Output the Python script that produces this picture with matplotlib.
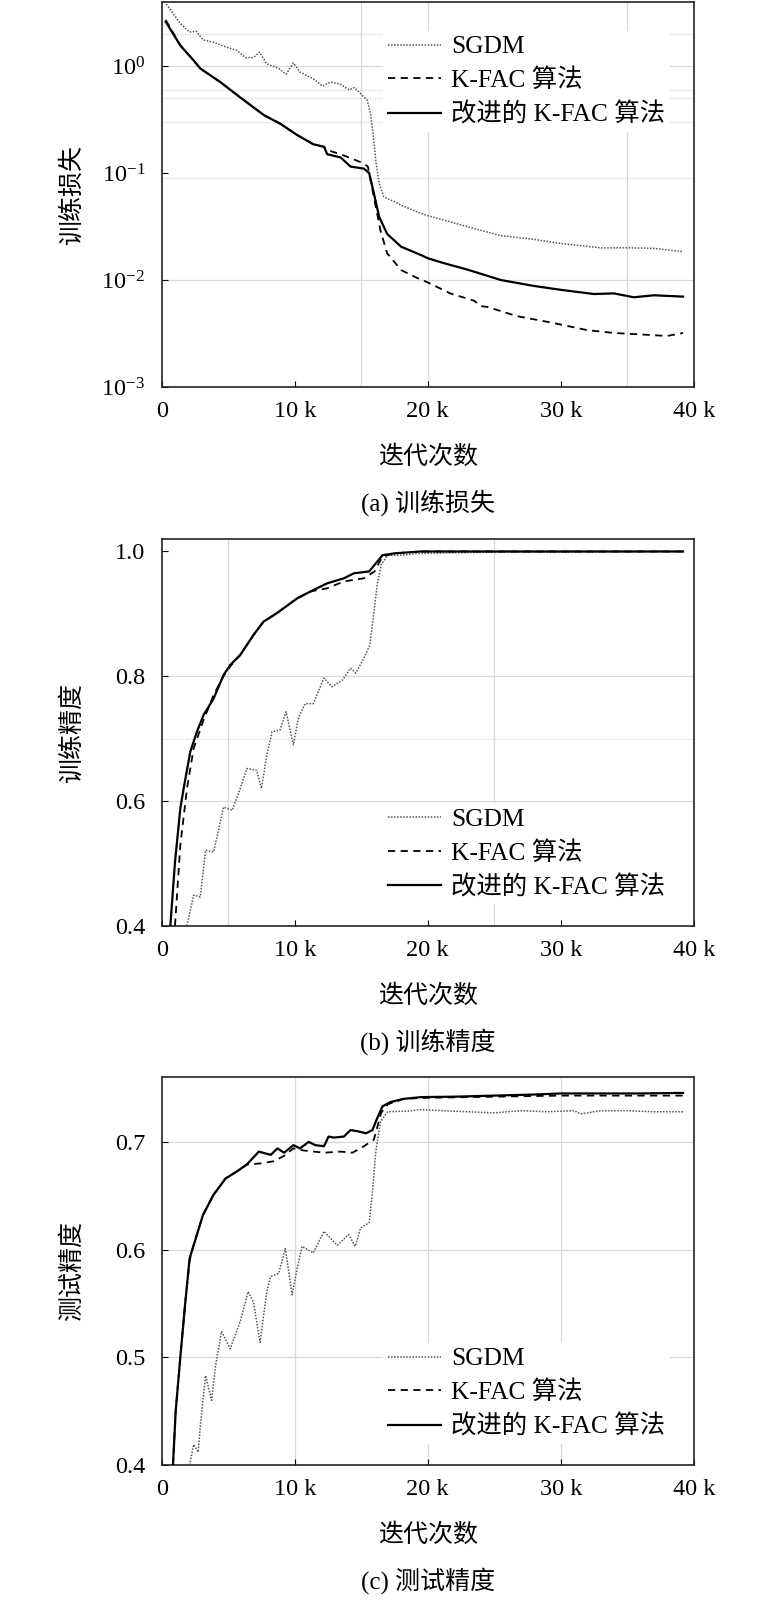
import matplotlib
matplotlib.use("Agg")
import matplotlib.pyplot as plt
import matplotlib.ticker as ticker

plt.rcParams["font.family"] = ["Liberation Serif", "Noto Sans CJK SC"]
plt.rcParams["font.size"] = 18
plt.rcParams["mathtext.fontset"] = "custom"
plt.rcParams["mathtext.rm"] = "Liberation Serif"
plt.rcParams["mathtext.it"] = "Liberation Serif:italic"
plt.rcParams["axes.unicode_minus"] = True

labels = ["SGDM", "K-FAC 算法", "改进的 K-FAC 算法"]
x_ticks = [0, 10, 20, 30, 40]

# (a) training loss, x in thousands of iterations
loss_sgdm_x = [0.35, 1.4, 2.1, 2.6, 3.1, 3.9, 4.9, 5.65, 6.3, 6.9, 7.35, 7.9, 8.8, 9.35, 9.9, 10.4,
               11.4, 12.1, 12.7, 13.4, 14.1, 14.5, 15.1, 15.45, 15.7, 15.9, 16.1, 16.35, 16.7, 17.5,
               18, 19.5, 20, 23, 25.5, 28, 30, 33, 35, 37, 39.2]
loss_sgdm = [3.8, 2.5, 2.08, 2.12, 1.76, 1.67, 1.5, 1.4, 1.2, 1.2, 1.35, 1.05, 0.95, 0.84, 1.07, 0.88,
             0.76, 0.65, 0.71, 0.68, 0.60, 0.63, 0.53, 0.48, 0.36, 0.23, 0.13, 0.080, 0.060, 0.054,
             0.050, 0.042, 0.040, 0.0315, 0.026, 0.024, 0.022, 0.020, 0.020, 0.0198, 0.0184]
loss_kfac_x = [0.3, 0.9, 1.4, 2.4, 2.9, 4.4, 5.9, 7.7, 8.9, 10.2, 11.4, 12.2, 12.45, 13.45, 14.45,
               15.2, 15.5, 15.95, 16.45, 16.95, 18, 19.1, 20, 21.7, 23.5, 24, 24.5, 26.7, 29.3, 32,
               34, 36, 38, 39.2]
loss_kfac = [2.7, 2.0, 1.56, 1.13, 0.95, 0.71, 0.51, 0.347, 0.29, 0.226, 0.186, 0.176, 0.164, 0.150,
             0.134, 0.123, 0.115, 0.060, 0.029, 0.0178, 0.0124, 0.0106, 0.0095, 0.0075, 0.0064,
             0.0057, 0.0056, 0.0046, 0.0040, 0.0034, 0.0032, 0.0031, 0.0030, 0.0032]
loss_ikfac_x = [0.3, 1.4, 2.4, 2.9, 4.4, 5.9, 7.7, 8.9, 10.2, 11.4, 12.2, 12.45, 13.45, 14.2, 15.2,
                15.6, 15.95, 16.35, 16.95, 18, 19.5, 20, 21.2, 23, 25.5, 28, 30, 32.5, 34, 35.5,
                37, 39.2]
loss_ikfac = [2.6, 1.56, 1.13, 0.95, 0.71, 0.51, 0.347, 0.29, 0.226, 0.186, 0.176, 0.150, 0.140,
              0.115, 0.110, 0.100, 0.065, 0.039, 0.027, 0.0205, 0.0171, 0.016, 0.0144, 0.0125,
              0.0100, 0.0088, 0.0081, 0.0074, 0.0075, 0.0069, 0.0072, 0.0070]

# (b) training accuracy
acc_sgdm_x = [1.9, 2.4, 2.9, 3.3, 3.9, 4.3, 4.65, 5.3, 5.9, 6.4, 7.15, 7.5, 7.9, 8.3, 8.9, 9.35,
              9.9, 10.3, 10.8, 11.4, 12.2, 12.8, 13.6, 14.2, 14.6, 15.2, 15.65, 15.9, 16.2, 16.5,
              17.0, 18.0, 19.5, 25, 30, 39.2]
acc_sgdm = [0.40, 0.449, 0.446, 0.521, 0.518, 0.556, 0.59, 0.585, 0.62, 0.652, 0.649, 0.62, 0.673,
            0.711, 0.714, 0.743, 0.69, 0.735, 0.756, 0.756, 0.797, 0.783, 0.794, 0.813, 0.805,
            0.829, 0.85, 0.893, 0.946, 0.979, 0.994, 0.994, 0.997, 0.999, 0.999, 1.0]
acc_kfac_x = [1.0, 1.4, 1.9, 2.4, 3.1, 3.9, 4.65, 5.15, 5.9, 6.9, 7.65, 8.65, 10.2, 11.2, 12.45,
              13.7, 15.2, 16.0, 16.6, 17.5, 19.5, 39.2]
acc_kfac = [0.40, 0.529, 0.62, 0.684, 0.727, 0.770, 0.80, 0.816, 0.834, 0.866, 0.887, 0.901, 0.925,
            0.936, 0.941, 0.952, 0.957, 0.968, 0.992, 0.997, 1.0, 1.0]
acc_ikfac_x = [0.65, 1.0, 1.4, 1.65, 2.15, 2.65, 3.15, 3.9, 4.65, 5.15, 5.9, 6.9, 7.65, 8.65, 10.2,
               11.2, 12.45, 13.7, 14.45, 15.6, 16.1, 16.6, 17.5, 19.5, 39.2]
acc_ikfac = [0.40, 0.502, 0.588, 0.62, 0.679, 0.711, 0.738, 0.764, 0.802, 0.818, 0.834, 0.866,
             0.8875, 0.901, 0.925, 0.936, 0.949, 0.957, 0.965, 0.968, 0.981, 0.994, 0.997, 1.0, 1.0]

# (c) test accuracy
test_sgdm_x = [2.1, 2.4, 2.75, 2.9, 3.3, 3.75, 4.05, 4.5, 5.15, 5.9, 6.5, 6.9, 7.4, 7.9, 8.2, 8.8,
               9.3, 9.8, 10.2, 10.55, 11.4, 12.2, 13.2, 14.05, 14.55, 14.95, 15.6, 15.85, 16.1,
               16.45, 17.0, 18.5, 19.5, 21, 23, 25, 27, 29, 31, 31.5, 33, 35, 37, 39.2]
test_sgdm = [0.40, 0.419, 0.412, 0.436, 0.483, 0.46, 0.492, 0.524, 0.508, 0.533, 0.561, 0.551,
             0.514, 0.561, 0.575, 0.578, 0.601, 0.558, 0.583, 0.603, 0.597, 0.617, 0.604, 0.614,
             0.603, 0.620, 0.625, 0.654, 0.691, 0.719, 0.728, 0.7286, 0.730, 0.729, 0.728, 0.727,
             0.729, 0.728, 0.729, 0.726, 0.729, 0.729, 0.728, 0.728]
test_kfac_x = [0.85, 1.05, 1.4, 1.75, 2.1, 2.4, 3.1, 3.9, 4.8, 5.7, 6.4, 7.4, 8.4, 9.2, 9.9, 10.7,
               12.2, 13.45, 14.35, 15.2, 15.95, 16.5, 17.0, 18.2, 20, 25, 30, 35, 39.2]
test_kfac = [0.40, 0.45, 0.50, 0.548, 0.59, 0.604, 0.632, 0.651, 0.666, 0.673, 0.679, 0.680, 0.682,
             0.687, 0.694, 0.692, 0.690, 0.691, 0.690, 0.696, 0.702, 0.727, 0.735, 0.740, 0.741,
             0.742, 0.743, 0.743, 0.743]
test_ikfac_x = [0.85, 1.05, 1.4, 1.75, 2.1, 2.4, 3.1, 3.9, 4.8, 5.7, 6.4, 7.3, 8.2, 8.7, 9.2, 9.9,
                10.4, 11.05, 11.55, 12.2, 12.55, 12.95, 13.7, 14.2, 14.7, 15.35, 15.85, 16.2, 16.6,
                17.2, 18.2, 19.5, 22, 25, 28, 30, 33, 36, 39.2]
test_ikfac = [0.40, 0.45, 0.50, 0.548, 0.592, 0.604, 0.632, 0.651, 0.666, 0.673, 0.679, 0.691,
              0.688, 0.694, 0.690, 0.697, 0.694, 0.700, 0.697, 0.696, 0.705, 0.704, 0.705, 0.711,
              0.710, 0.708, 0.711, 0.722, 0.733, 0.737, 0.740, 0.7416, 0.742, 0.743, 0.744, 0.745,
              0.745, 0.745, 0.7455]

W, H = 774, 1600
fig = plt.figure(figsize=(W / 100, H / 100), dpi=100)

# axes boxes in pixels: (top, bottom)
boxes = [(1.7, 387.0), (539.0, 925.7), (1077.3, 1465.0)]
left_px, right_px = 161.7, 693.7

panels = [
    ("训练损失", "(a) 训练损失", (loss_sgdm_x, loss_sgdm), (loss_kfac_x, loss_kfac), (loss_ikfac_x, loss_ikfac)),
    ("训练精度", "(b) 训练精度", (acc_sgdm_x, acc_sgdm), (acc_kfac_x, acc_kfac), (acc_ikfac_x, acc_ikfac)),
    ("测试精度", "(c) 测试精度", (test_sgdm_x, test_sgdm), (test_kfac_x, test_kfac), (test_ikfac_x, test_ikfac)),
]

grid_c = "#d9d9d9"
for i, (ylab, cap, s1, s2, s3) in enumerate(panels):
    top, bot = boxes[i]
    ax = fig.add_axes([left_px / W, 1 - bot / H, (right_px - left_px) / W, (bot - top) / H])
    hpx = bot - top

    ax.plot(*s1, color="#555555", lw=1.1, ls=(0, (1, 1)), label=labels[0], zorder=3)
    ax.plot(*s2, color="black", lw=1.3, ls=(0, (4, 3)), label=labels[1], zorder=4)
    ax.plot(*s3, color="black", lw=1.6, ls="-", label=labels[2], zorder=5)

    ax.set_xlim(0, 40)
    ax.set_xticks(x_ticks)
    ax.xaxis.set_major_formatter(ticker.FuncFormatter(lambda v, p: "0" if v == 0 else f"{int(v)} k"))

    if i == 0:
        ax.set_yscale("log")
        ax.set_ylim(1e-3, 4)
        ax.yaxis.set_major_locator(ticker.LogLocator(base=10, numticks=10))
        ax.yaxis.set_minor_locator(ticker.NullLocator())
        for v in [1, 0.01]:
            ax.axhline(v, color=grid_c, lw=0.9, zorder=0)
        for v in [2, 0.6, 0.5, 0.3, 0.09]:
            ax.axhline(v, color=grid_c, lw=0.9, ls=(0, (1, 1)), zorder=0)
        for v in [15, 20, 35]:
            ax.axvline(v, color=grid_c, lw=0.9, zorder=0)
        leg_kw = dict(loc="upper left", bbox_to_anchor=(0.416, 0.925))
    else:
        if i == 1:
            ax.set_ylim(0.4, 1.02)
            ax.set_yticks([0.4, 0.6, 0.8, 1.0])
            for v in [0.6, 0.8]:
                ax.axhline(v, color=grid_c, lw=0.9, zorder=0)
            ax.axhline(0.7, color=grid_c, lw=0.9, ls=(0, (1, 1)), zorder=0)
            for v in [5, 25]:
                ax.axvline(v, color=grid_c, lw=0.9, zorder=0)
        else:
            ax.set_ylim(0.4, 0.76)
            ax.set_yticks([0.4, 0.5, 0.6, 0.7])
            for v in [0.5, 0.6, 0.7]:
                ax.axhline(v, color=grid_c, lw=0.9, zorder=0)
            for v in [10, 20, 30]:
                ax.axvline(v, color=grid_c, lw=0.9, zorder=0)
        ax.yaxis.set_major_formatter(ticker.FormatStrFormatter("%.1f"))
        leg_kw = dict(loc="lower left", bbox_to_anchor=(0.416, 0.055))

    ax.tick_params(direction="in", length=4, width=0.8, pad=10, labelsize=17.5)
    ax.tick_params(axis="y", pad=12)
    for sp in ax.spines.values():
        sp.set_linewidth(1.2)
        sp.set_color("#222222")

    ax.set_xlabel("迭代次数", va="center")
    ax.xaxis.set_label_coords(0.5, -70 / hpx)
    ax.set_ylabel(ylab, va="center")
    ax.yaxis.set_label_coords((72 - left_px) / (right_px - left_px), 0.5)

    leg = ax.legend(frameon=True, facecolor="white", edgecolor="none", fancybox=False,
                    framealpha=1, borderpad=0.2, borderaxespad=0, handlelength=2.1,
                    handletextpad=0.38, labelspacing=0.4, fontsize=18.3, **leg_kw)
    leg.set_zorder(2)

    fig.text((left_px + right_px) / 2 / W, 1 - (bot + 116) / H, cap, ha="center", va="center")

fig.savefig("out.png", dpi=100)
